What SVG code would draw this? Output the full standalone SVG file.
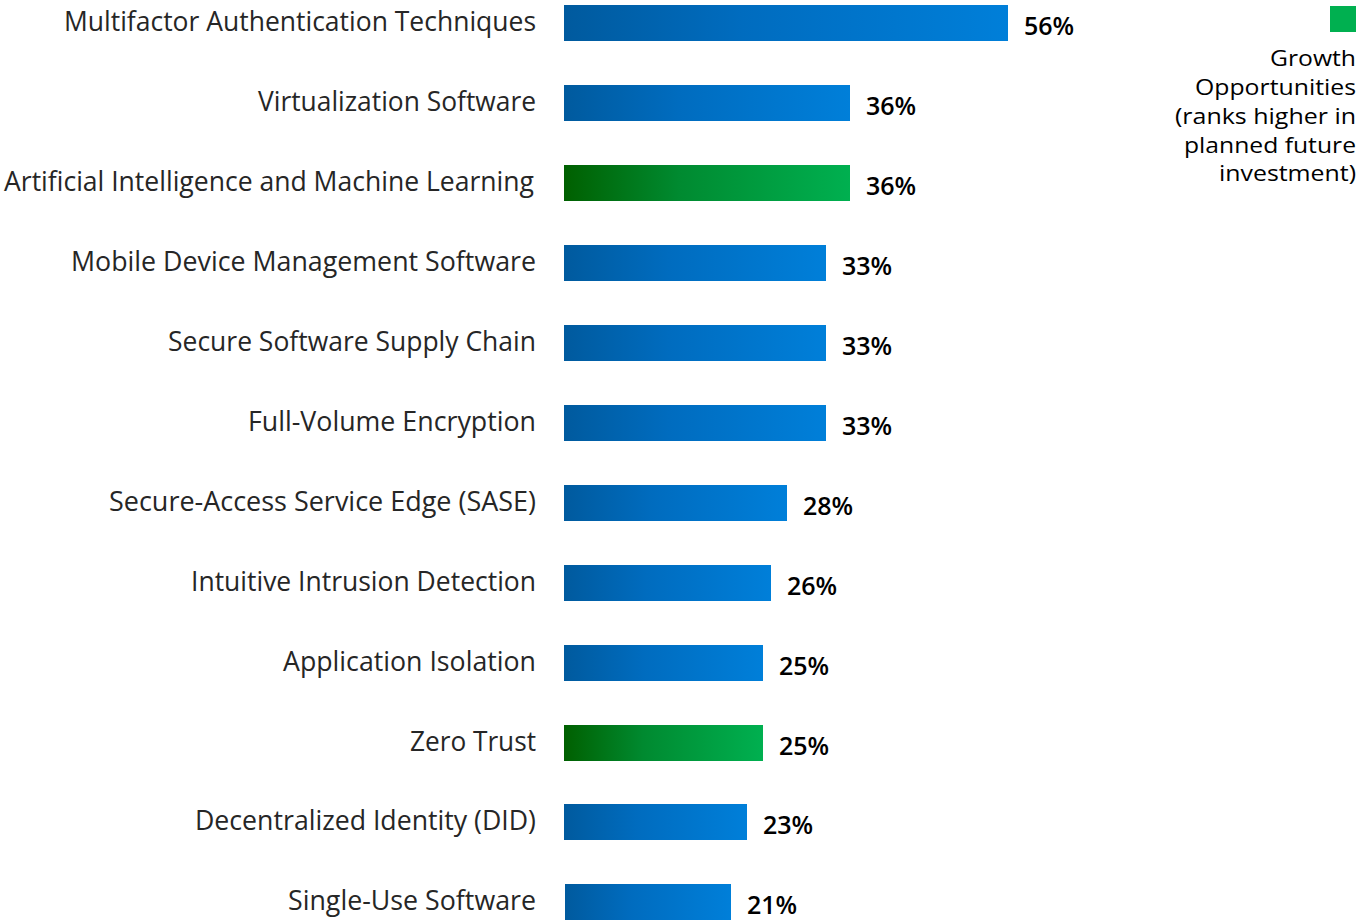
<svg xmlns="http://www.w3.org/2000/svg" width="1356" height="920" viewBox="0 0 1356 920">
<defs>
<linearGradient id="gb" x1="0" y1="0" x2="1" y2="0">
<stop offset="0" stop-color="#005A9E"/>
<stop offset="0.4" stop-color="#006CBF"/>
<stop offset="1" stop-color="#007FD9"/>
</linearGradient>
<linearGradient id="gg" x1="0" y1="0" x2="1" y2="0">
<stop offset="0" stop-color="#006000"/>
<stop offset="0.4" stop-color="#008A30"/>
<stop offset="1" stop-color="#00B050"/>
</linearGradient>
<style>
.lab{font-family:"Open Sans","Noto Sans","Liberation Sans",sans-serif;font-size:27px;fill:#262626;text-anchor:end}
.pct{font-family:"Open Sans","Noto Sans","Liberation Sans",sans-serif;font-size:25px;font-weight:600;fill:#000}
.leg{font-family:"Open Sans","Noto Sans","Liberation Sans",sans-serif;font-size:21px;fill:#000;text-anchor:end}
.b{fill:url(#gb)}
.g{fill:url(#gg)}
</style>
</defs>
<rect width="1356" height="920" fill="#fff"/>
<g id="bar1"><rect class="b" x="564" y="5" width="444" height="36"/><text class="lab" x="536" y="31" textLength="472" lengthAdjust="spacingAndGlyphs">Multifactor Authentication Techniques</text><text class="pct" x="1024" y="35">56%</text></g>
<g id="bar2"><rect class="b" x="564" y="85" width="286" height="36"/><text class="lab" x="536" y="111" textLength="278" lengthAdjust="spacingAndGlyphs">Virtualization Software</text><text class="pct" x="866" y="115">36%</text></g>
<g id="bar3"><rect class="g" x="564" y="165" width="286" height="36"/><text class="lab" x="534" y="191" textLength="530" lengthAdjust="spacingAndGlyphs">Artificial Intelligence and Machine Learning</text><text class="pct" x="866" y="195">36%</text></g>
<g id="bar4"><rect class="b" x="564" y="245" width="262" height="36"/><text class="lab" x="536" y="271" textLength="465" lengthAdjust="spacingAndGlyphs">Mobile Device Management Software</text><text class="pct" x="842" y="275">33%</text></g>
<g id="bar5"><rect class="b" x="564" y="325" width="262" height="36"/><text class="lab" x="536" y="351" textLength="368" lengthAdjust="spacingAndGlyphs">Secure Software Supply Chain</text><text class="pct" x="842" y="355">33%</text></g>
<g id="bar6"><rect class="b" x="564" y="405" width="262" height="36"/><text class="lab" x="536" y="431" textLength="288" lengthAdjust="spacingAndGlyphs">Full-Volume Encryption</text><text class="pct" x="842" y="435">33%</text></g>
<g id="bar7"><rect class="b" x="564" y="485" width="223" height="36"/><text class="lab" x="536" y="511" textLength="427" lengthAdjust="spacingAndGlyphs">Secure-Access Service Edge (SASE)</text><text class="pct" x="803" y="515">28%</text></g>
<g id="bar8"><rect class="b" x="564" y="565" width="207" height="36"/><text class="lab" x="536" y="591" textLength="345" lengthAdjust="spacingAndGlyphs">Intuitive Intrusion Detection</text><text class="pct" x="787" y="595">26%</text></g>
<g id="bar9"><rect class="b" x="564" y="645" width="199" height="36"/><text class="lab" x="536" y="671" textLength="253" lengthAdjust="spacingAndGlyphs">Application Isolation</text><text class="pct" x="779" y="675">25%</text></g>
<g id="bar10"><rect class="g" x="564" y="725" width="199" height="36"/><text class="lab" x="536" y="751" textLength="126" lengthAdjust="spacingAndGlyphs">Zero Trust</text><text class="pct" x="779" y="755">25%</text></g>
<g id="bar11"><rect class="b" x="564" y="804" width="183" height="36"/><text class="lab" x="536" y="830" textLength="341" lengthAdjust="spacingAndGlyphs">Decentralized Identity (DID)</text><text class="pct" x="763" y="834">23%</text></g>
<g id="bar12"><rect class="b" x="565" y="884" width="166" height="36"/><text class="lab" x="536" y="910" textLength="248" lengthAdjust="spacingAndGlyphs">Single-Use Software</text><text class="pct" x="747" y="914">21%</text></g>
<g id="legend">
<rect x="1330" y="6" width="26" height="26" fill="#00B050"/>
<text class="leg" x="1356" y="66" textLength="86" lengthAdjust="spacingAndGlyphs">Growth</text>
<text class="leg" x="1356" y="95" textLength="161" lengthAdjust="spacingAndGlyphs">Opportunities</text>
<text class="leg" x="1356" y="124" textLength="181" lengthAdjust="spacingAndGlyphs">(ranks higher in</text>
<text class="leg" x="1356" y="153" textLength="172" lengthAdjust="spacingAndGlyphs">planned future</text>
<text class="leg" x="1356" y="181" textLength="137" lengthAdjust="spacingAndGlyphs">investment)</text>
</g>
</svg>
